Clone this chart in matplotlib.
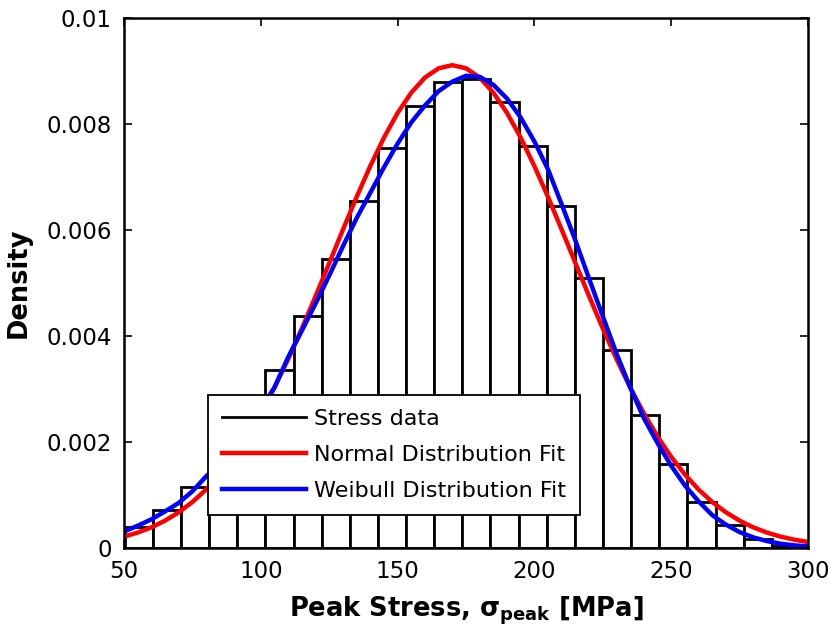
import numpy as np
import matplotlib
matplotlib.use('Agg')
import matplotlib.pyplot as plt

# histogram of peak stress (density normalised)
bin_edges = [50.3, 60.6, 70.9, 81.1, 91.4, 101.7, 112.0, 122.3, 132.5, 142.8,
             153.1, 163.4, 173.7, 183.9, 194.2, 204.5, 214.8, 225.1, 235.3,
             245.6, 255.9, 266.2, 276.5, 286.7, 297.0]
bin_density = [0.00040, 0.00072, 0.00116, 0.00170, 0.00250, 0.00336, 0.00438,
               0.00545, 0.00655, 0.00755, 0.00834, 0.00880, 0.00885, 0.00842,
               0.00759, 0.00646, 0.00510, 0.00374, 0.00251, 0.00158, 0.00087,
               0.00043, 0.00016, 0.00004]

# fitted curves, every 5 MPa
curve_x = [50, 55, 60, 65, 70, 75, 80, 85, 90, 95, 100, 105, 110, 115, 120,
           125, 130, 135, 140, 145, 150, 155, 160, 165, 170, 175, 180, 185,
           190, 195, 200, 205, 210, 215, 220, 225, 230, 235, 240, 245, 250,
           255, 260, 265, 270, 275, 280, 285, 290, 295, 300]
normal_fit = [0.000214, 0.000290, 0.000389, 0.000515, 0.000673, 0.000867,
              0.001103, 0.001386, 0.001718, 0.002103, 0.002541, 0.003029,
              0.003565, 0.004141, 0.004748, 0.005374, 0.006003, 0.006620,
              0.007205, 0.007741, 0.008208, 0.008591, 0.008876, 0.009051,
              0.009110, 0.009051, 0.008876, 0.008591, 0.008208, 0.007741,
              0.007205, 0.006620, 0.006003, 0.005374, 0.004748, 0.004141,
              0.003565, 0.003029, 0.002541, 0.002103, 0.001718, 0.001386,
              0.001103, 0.000867, 0.000673, 0.000515, 0.000389, 0.000290,
              0.000214, 0.000156, 0.000113]
weibull_fit = [0.00031, 0.00042, 0.00054, 0.00069, 0.00085, 0.00107, 0.00135,
               0.00160, 0.00190, 0.00224, 0.00262, 0.00303, 0.00360, 0.00410,
               0.00461, 0.00514, 0.00569, 0.00622, 0.00670, 0.00718, 0.00763,
               0.00803, 0.00835, 0.00862, 0.00880, 0.00891, 0.00889, 0.00874,
               0.00848, 0.00812, 0.00767, 0.00714, 0.00648, 0.00580, 0.00508,
               0.00437, 0.00367, 0.00303, 0.00245, 0.00198, 0.00155, 0.00118,
               0.00088, 0.00062, 0.00044, 0.00030, 0.00020, 0.00013, 0.00008,
               0.00005, 0.00003]

x_ticks = [50, 100, 150, 200, 250, 300]
y_ticks = [0, 0.002, 0.004, 0.006, 0.008, 0.01]
y_tick_labels = ['0', '0.002', '0.004', '0.006', '0.008', '0.01']

plt.rcParams['font.family'] = ['DejaVu Sans']

fig = plt.figure(figsize=(8.3, 6.36), dpi=100)
ax = fig.add_axes([0.1494, 0.1384, 0.8241, 0.8333])

lefts = np.array(bin_edges[:-1])
widths = np.diff(bin_edges)
ax.bar(lefts, bin_density, width=widths, align='edge', facecolor='white',
       edgecolor='black', linewidth=2.0, zorder=2)
ax.plot([], [], color='black', lw=2.0, label='Stress data')
ax.plot(curve_x, normal_fit, color='#ff0000', lw=3.2, zorder=3,
        label='Normal Distribution Fit')
ax.plot(curve_x, weibull_fit, color='#0000ff', lw=3.2, zorder=4,
        label='Weibull Distribution Fit')

ax.set_xlim(50, 300)
ax.set_ylim(0, 0.01)
ax.set_xticks(x_ticks)
ax.set_xticklabels([str(t) for t in x_ticks])
ax.set_yticks(y_ticks)
ax.set_yticklabels(y_tick_labels)
ax.tick_params(direction='in', length=6, width=1.2, top=True, right=True,
               labelsize=16.5, pad=9, colors='black')
for sp in ax.spines.values():
    sp.set_linewidth(1.8)
    sp.set_zorder(5)

ax.set_xlabel('Peak Stress, σ$_{\\mathbf{peak}}$ [MPa]', fontsize=18.5,
              fontweight='bold', labelpad=8)
ax.set_ylabel('Density', fontsize=18.5, fontweight='bold', labelpad=10)

leg = ax.legend(loc='lower left', bbox_to_anchor=(0.1228, 0.0623),
                borderaxespad=0, fontsize=16, fancybox=False, framealpha=1,
                edgecolor='black', handlelength=3.8, handletextpad=0.36,
                labelspacing=0.72, borderpad=0.62)
leg.get_frame().set_linewidth(1.3)
leg.set_zorder(6)

fig.savefig('out.png', dpi=100, facecolor='white')
